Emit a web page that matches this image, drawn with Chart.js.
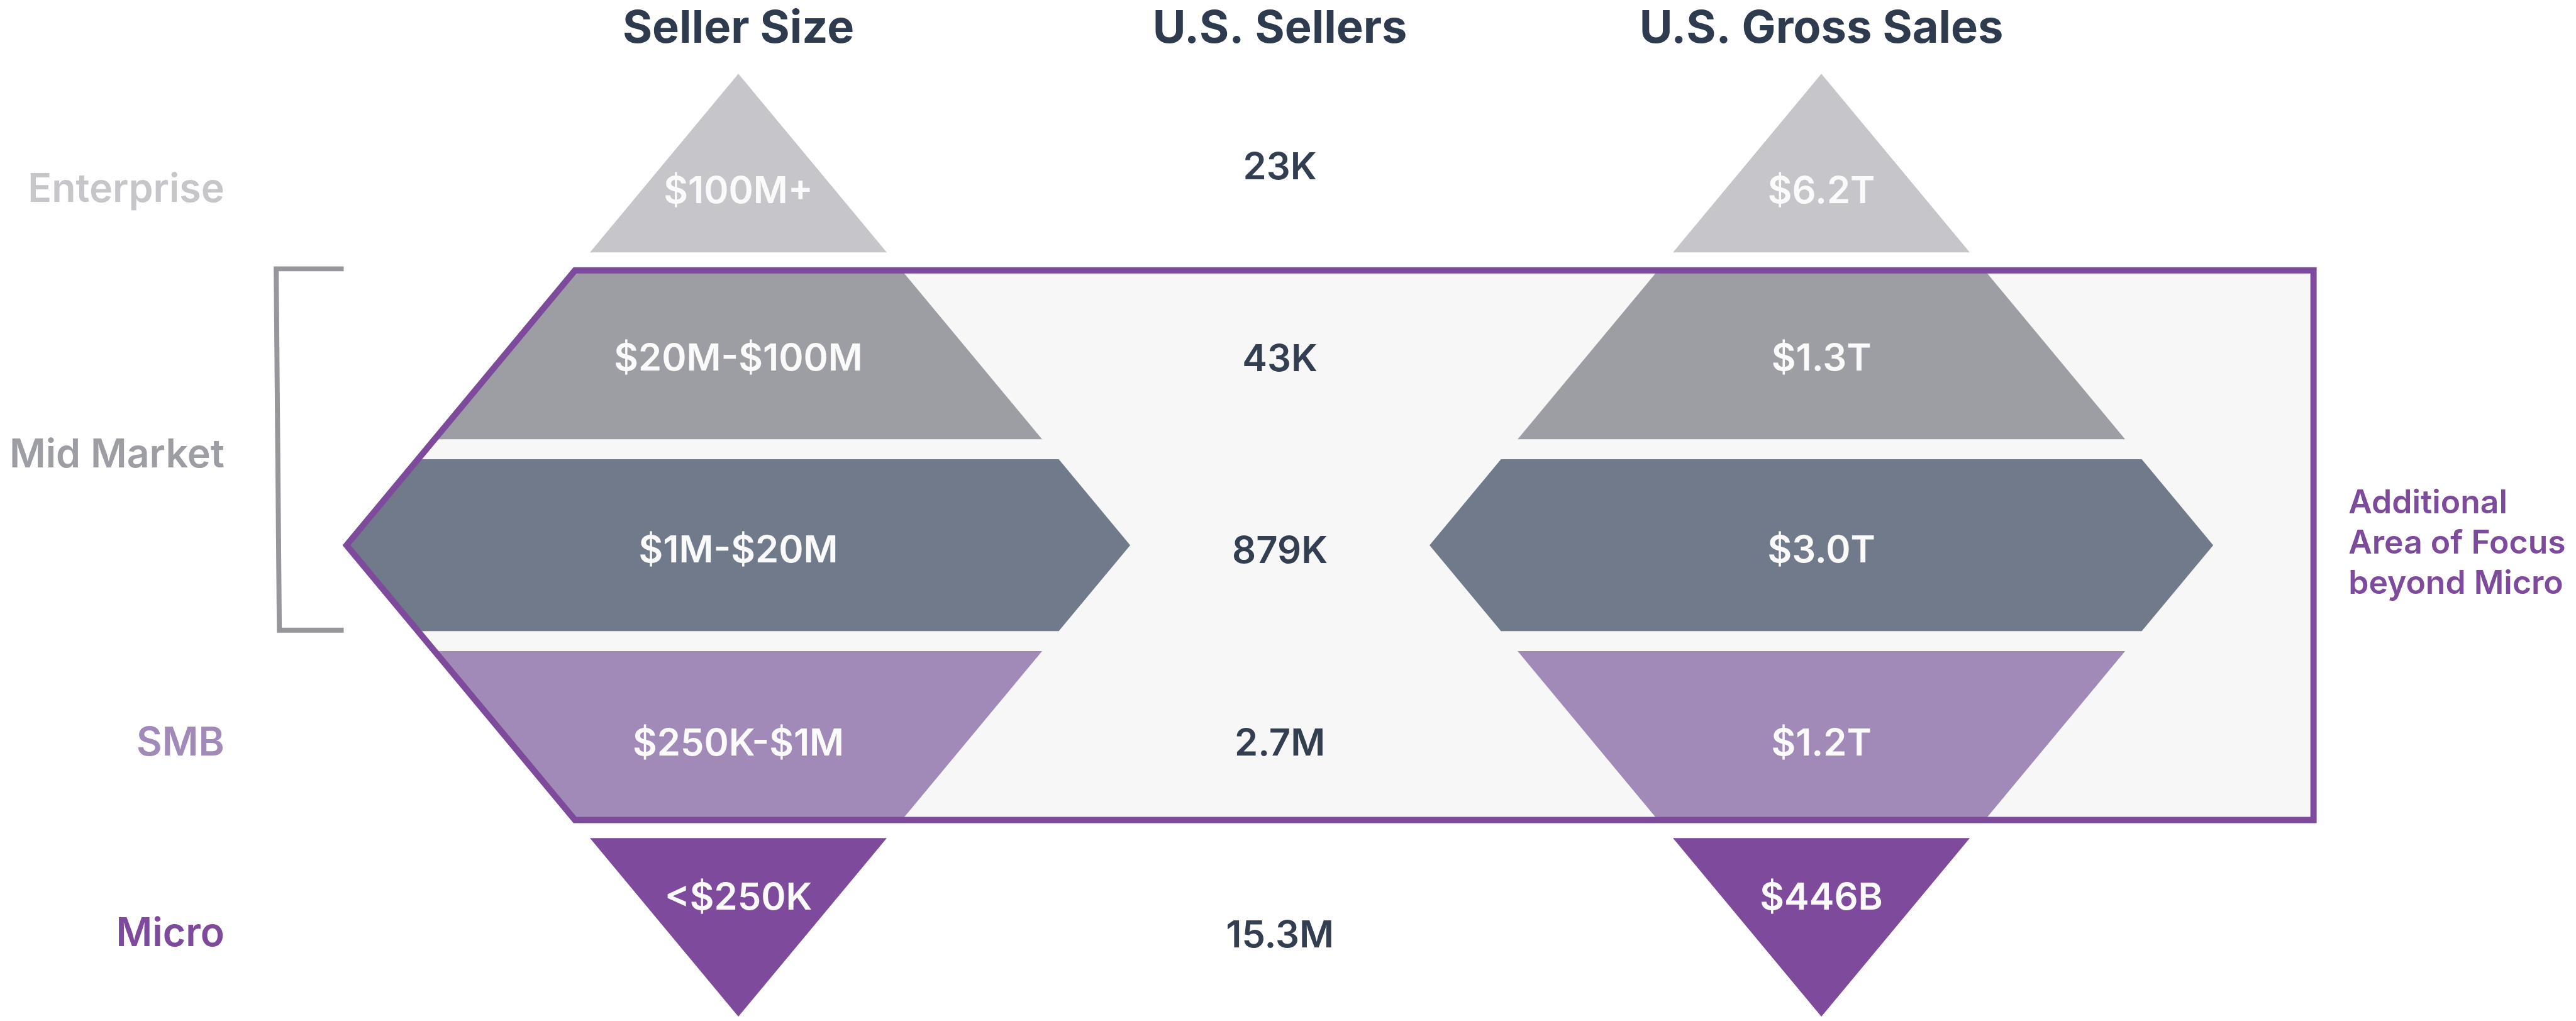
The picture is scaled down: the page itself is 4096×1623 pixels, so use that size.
<!DOCTYPE html>
<html>
<head>
<meta charset="utf-8">
<script src="https://cdn.jsdelivr.net/npm/chart.js@4.4.1/dist/chart.umd.min.js"></script>
<style>
  html, body { margin: 0; padding: 0; background: #ffffff; overflow: hidden; }
  canvas { display: block; }
</style>
</head>
<body>
<canvas id="chart" width="4096" height="1623" style="width:4096px;height:1623px"></canvas>
<script>
// ---------------- data ----------------
const columnTitles   = ['Seller Size', 'U.S. Sellers', 'U.S. Gross Sales'];
const segmentLabels  = ['Enterprise', 'Mid Market', 'SMB', 'Micro'];
const sellerSizes    = ['$100M+', '$20M-$100M', '$1M-$20M', '$250K-$1M', '<$250K'];
const usSellers      = ['23K', '43K', '879K', '2.7M', '15.3M'];
const usGrossSales   = ['$6.2T', '$1.3T', '$3.0T', '$1.2T', '$446B'];
const focusNote      = ['Additional', 'Area of Focus', 'beyond Micro'];

// ---------------- styles ----------------
const tierColors    = ['#c6c6ca', '#9d9ea3', '#717a8a', '#a189b8', '#7e4a9c'];
const segmentColors = ['#c6c6ca', '#9d9ea3', '#a189b8', '#7e4a9c'];
const purple = '#7e4a9c', boxFill = '#f7f7f7', bracketGray = '#96979b';
const titleColor = '#2e3a4e', valueColor = '#333e50', inShapeColor = '#fafafa';
const FONT = 'Inter';

// ---------------- layout (reference frame 4122 x 1633) ----------------
const S = 4096 / 4122;                 // drawing scale
const COL_PX = 866.5, COL0_PX = 1181.5; // column pitch / first column centre
const ROW_PX = 301.6, ROW2_PX = 872;    // row pitch / centre row position
const xMin = -COL0_PX / COL_PX, xMax = (4122 - COL0_PX) / COL_PX;
const yMin = 2 - ROW2_PX / ROW_PX,  yMax = 2 + (1633 - ROW2_PX) / ROW_PX;

const W = 627 / COL_PX;                 // diamond half width at centre row
const halfW = r => Math.max(0, W * (1 - Math.abs(r - 2) / 2.5));
const gapCenters = [0.5, 1.491, 2.509, 3.5], gapHalf = 0.053;
const shapeColumns = [0, 2];

const boxTop = 2 - 1.4575, boxBottom = 2 + 1.4575, boxRight = 2.9088;
const bracketTopX = -0.8535, bracketBotX = -0.8477, bracketTickX = -0.7288;
const bracketTop = 0.5345, bracketBottom = 2.451;

const titleRow = -0.666;
const leftLabelX = -0.9492, leftLabelRows = [0.180, 1.586, 3.114, 4.125];
const midValueRows = [0.0603, 1.078, 2.093, 3.114, 4.132];
const shapeTextRows = [0.186, 1.075, 2.09, 3.114, 3.933];
const noteX = 2.9733, noteRows = [1.831, 2.043, 2.259];

function bandRange(i) {
  const t = i === 0 ? -0.5 : gapCenters[i - 1] + gapHalf;
  const b = i === 4 ? 4.5 : gapCenters[i] - gapHalf;
  return [t, b];
}
function bandPoly(cx, i) {
  const [t, b] = bandRange(i);
  const spansCentre = t < 2 && b > 2;
  const pts = [{x: cx - halfW(t), y: t}, {x: cx + halfW(t), y: t}];
  if (spansCentre) pts.push({x: cx + W, y: 2});
  pts.push({x: cx + halfW(b), y: b}, {x: cx - halfW(b), y: b});
  if (spansCentre) pts.push({x: cx - W, y: 2});
  return pts;
}

const datasets = [];
// highlighted box (fill)
const boxPts = [
  {x: boxRight, y: 2}, {x: boxRight, y: boxTop}, {x: -halfW(boxTop), y: boxTop},
  {x: -W, y: 2}, {x: -halfW(boxBottom), y: boxBottom}, {x: boxRight, y: boxBottom}, {x: boxRight, y: 2}
];
datasets.push({data: boxPts, fill: 'shape', backgroundColor: boxFill, borderWidth: 0, order: 3});
// pyramid tiers
shapeColumns.forEach(cx => {
  sellerSizes.forEach((_, i) => {
    datasets.push({data: bandPoly(cx, i), fill: 'shape', backgroundColor: tierColors[i], borderWidth: 0, order: 2});
  });
});
// box outline
datasets.push({data: boxPts, fill: false, borderColor: purple, borderWidth: 10 * S,
  borderJoinStyle: 'miter', order: 1});
// mid-market bracket
datasets.push({data: [
  {x: bracketTickX, y: bracketTop}, {x: bracketTopX, y: bracketTop},
  {x: bracketBotX, y: bracketBottom}, {x: bracketTickX, y: bracketBottom}],
  fill: false, borderColor: bracketGray, borderWidth: 8 * S, borderJoinStyle: 'miter', order: 1});

const textPlugin = {
  id: 'texts',
  afterDatasetsDraw(chart) {
    const {ctx} = chart, xs = chart.scales.x, ys = chart.scales.y;
    const put = (s, x, y, size, weight, color, align) => {
      ctx.save();
      ctx.font = `${weight} ${size * S}px "${FONT}"`;
      ctx.fillStyle = color; ctx.textAlign = align; ctx.textBaseline = 'alphabetic';
      ctx.fillText(s, xs.getPixelForValue(x), ys.getPixelForValue(y));
      ctx.restore();
    };
    columnTitles.forEach((t, c) => put(t, c, titleRow, 72.6, 700, titleColor, 'center'));
    segmentLabels.forEach((t, i) => put(t, leftLabelX, leftLabelRows[i], 63, 600, segmentColors[i], 'right'));
    sellerSizes.forEach((t, i) => put(t, 0, shapeTextRows[i], 60, 600, inShapeColor, 'center'));
    usSellers.forEach((t, i) => put(t, 1, midValueRows[i], 60, 600, valueColor, 'center'));
    usGrossSales.forEach((t, i) => put(t, 2, shapeTextRows[i], 60, 600, inShapeColor, 'center'));
    focusNote.forEach((t, i) => put(t, noteX, noteRows[i], 52, 600, purple, 'left'));
  }
};

new Chart(document.getElementById('chart'), {
  type: 'line',
  data: {datasets: datasets.map(d => Object.assign({pointRadius: 0, tension: 0, clip: false}, d))},
  options: {
    responsive: false, animation: false, devicePixelRatio: 1, events: [],
    layout: {padding: 0},
    plugins: {legend: {display: false}, tooltip: {enabled: false}},
    scales: {
      x: {type: 'linear', min: xMin, max: xMax, display: false},
      y: {type: 'linear', min: yMin, max: yMax, reverse: true, display: false}
    }
  },
  plugins: [textPlugin]
});
</script>
</body>
</html>
